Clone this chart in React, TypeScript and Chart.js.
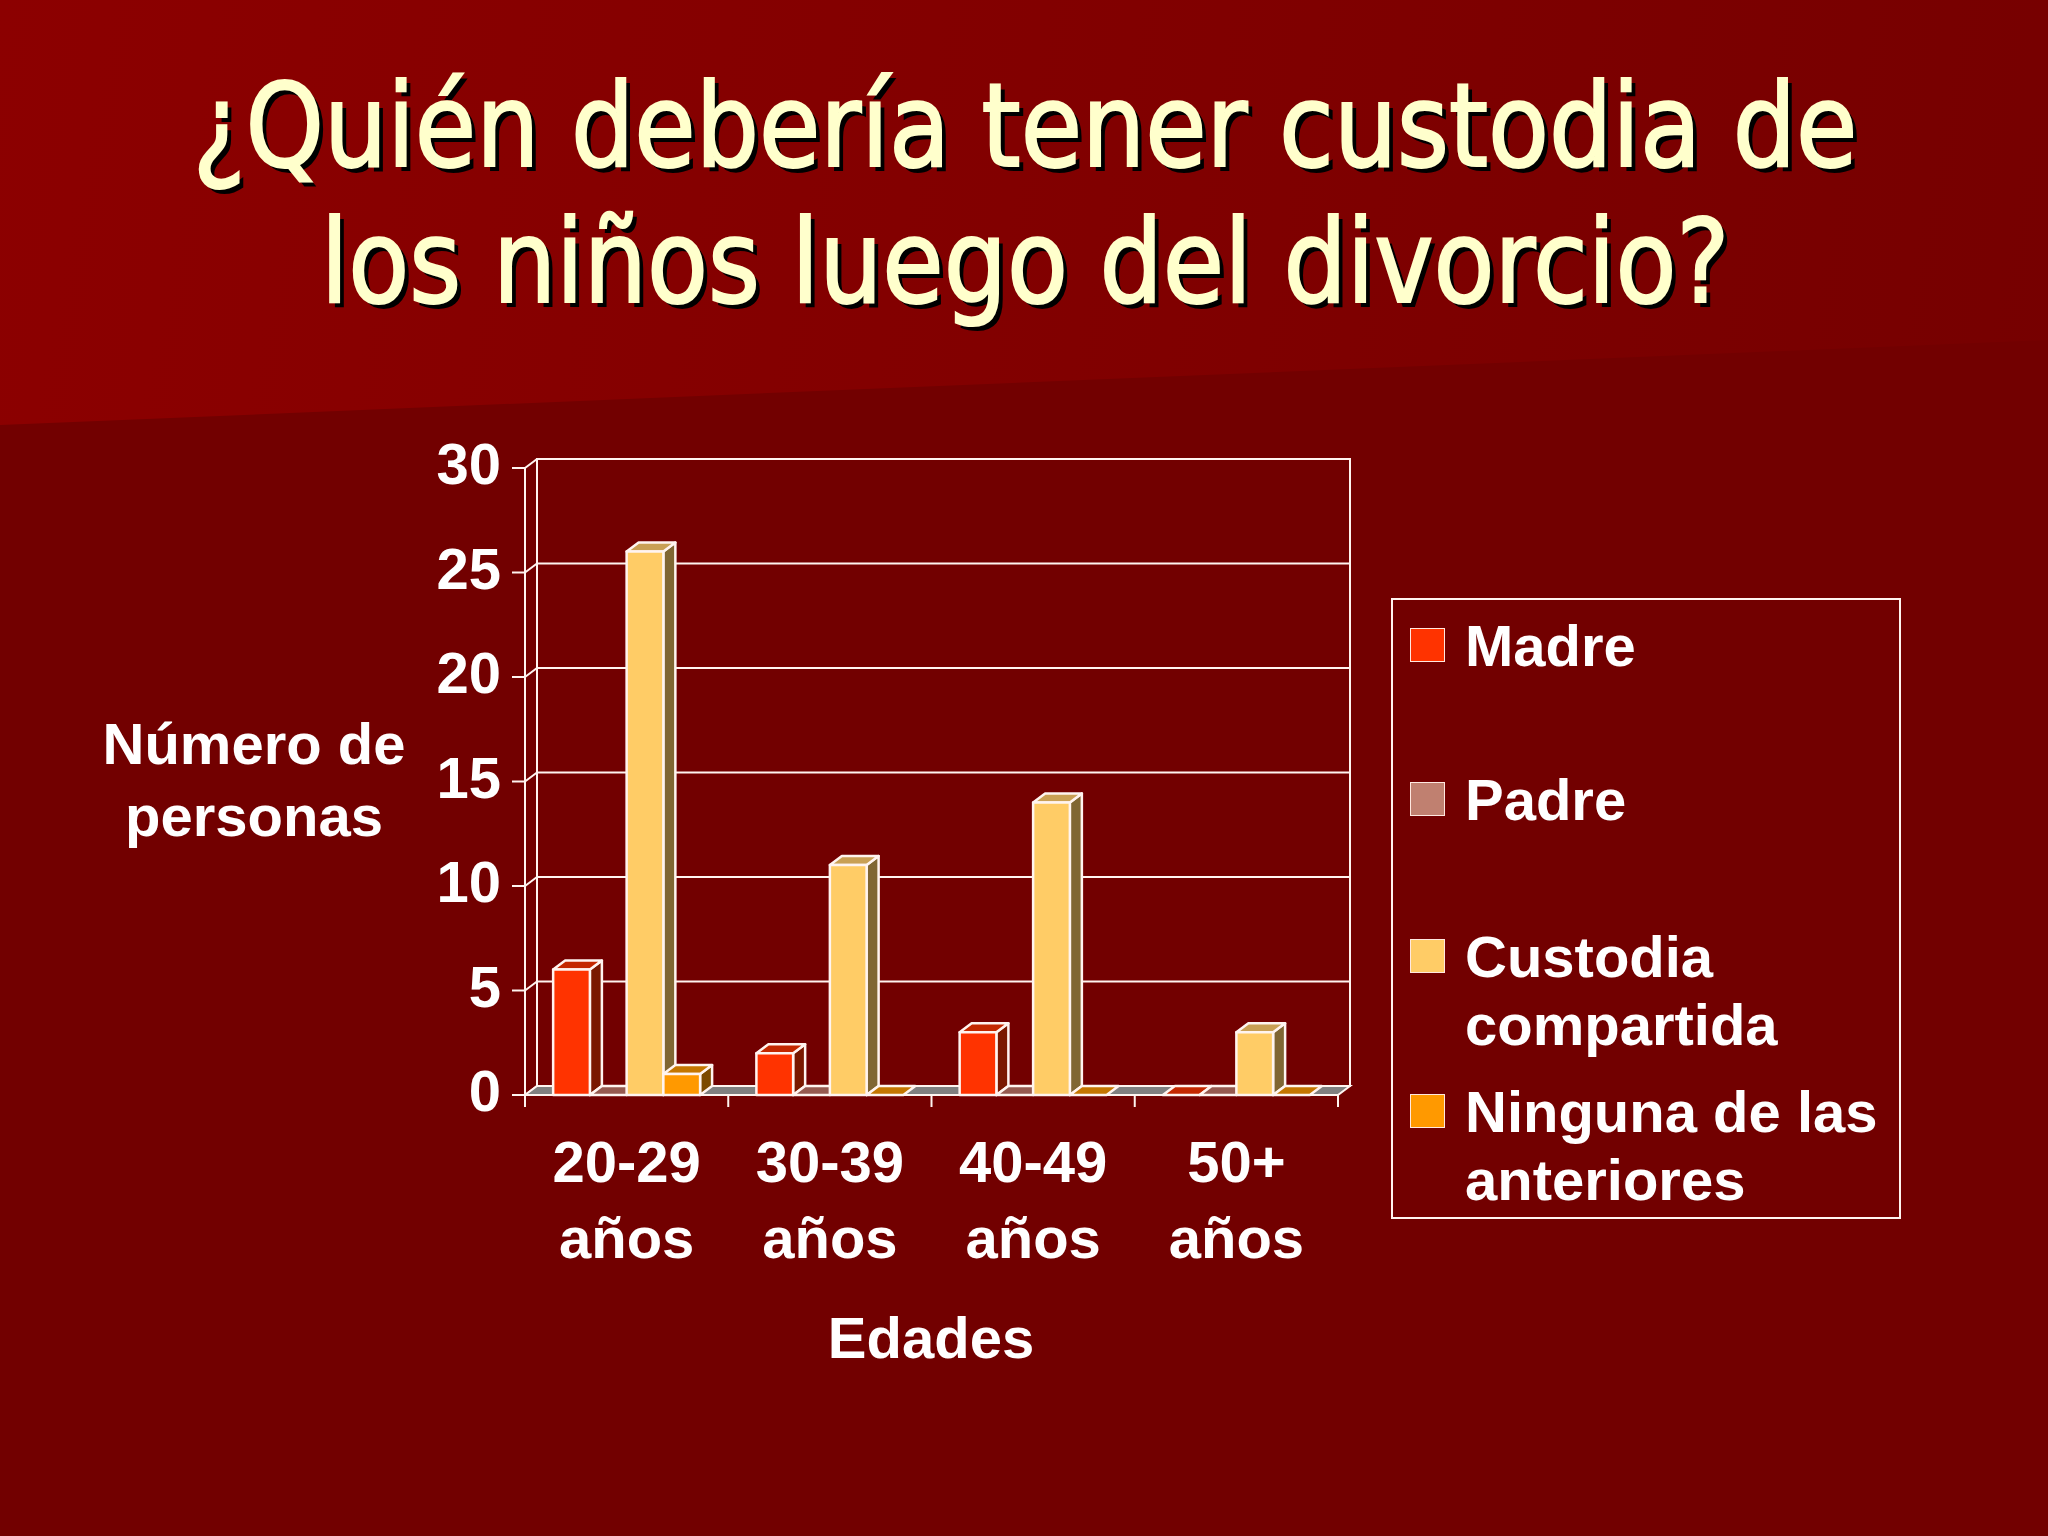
import React, { useEffect, useRef } from "react";
import Chart from "chart.js/auto";
import type { Plugin } from "chart.js";

// data
const CATEGORIES = [
    ["20-29", "años"],
    ["30-39", "años"],
    ["40-49", "años"],
    ["50+", "años"],
];
const SERIES = ["Madre", "Padre", "Custodia compartida", "Ninguna de las anteriores"];
const MADRE = [6, 2, 3, 0];
const PADRE = [0, 0, 0, 0];
const CUSTODIA = [26, 11, 14, 3];
const NINGUNA = [1, 0, 0, 0];
const Y_TICKS = [0, 5, 10, 15, 20, 25, 30];

const FRONT = ["#FF3300", "#C08070", "#FFCC66", "#FF9900"];
const TOP = ["#C42800", "#965A50", "#C9A055", "#C47600"];
const SIDE = ["#7A1800", "#5E3A30", "#806633", "#7C4A00"];

const LINE = "#FFF4F0";
const DX = 12;
const DY = -9;
const FONT = "'Liberation Sans', Arial, sans-serif";

type Pt = [number, number];

const fillPoly = (ctx: CanvasRenderingContext2D, pts: Pt[], fill: string) => {
    ctx.beginPath();
    pts.forEach(([x, y], i) => (i ? ctx.lineTo(x, y) : ctx.moveTo(x, y)));
    ctx.closePath();
    ctx.fillStyle = fill;
    ctx.fill();
    ctx.stroke();
};

const segment = (ctx: CanvasRenderingContext2D, x1: number, y1: number, x2: number, y2: number) => {
    ctx.beginPath();
    ctx.moveTo(x1, y1);
    ctx.lineTo(x2, y2);
    ctx.stroke();
};

const box3d: Plugin = {
    id: "box3d",
    beforeDatasetsDraw(chart) {
        const { ctx, chartArea: a } = chart;
        const yScale = chart.scales.y;
        ctx.save();
        ctx.lineWidth = 2;
        ctx.strokeStyle = LINE;

        // back wall, its grid and the left wall
        ctx.strokeRect(a.left + DX, a.top + DY, a.right - a.left, a.bottom - a.top);
        Y_TICKS.forEach((v) => {
            const py = yScale.getPixelForValue(v);
            segment(ctx, a.left + DX, py + DY, a.right + DX, py + DY);
            segment(ctx, a.left, py, a.left + DX, py + DY);
            segment(ctx, a.left - 13, py, a.left, py);
        });
        segment(ctx, a.left, a.top, a.left, a.bottom + 12);

        // floor
        fillPoly(ctx, [
            [a.left, a.bottom],
            [a.right, a.bottom],
            [a.right + DX, a.bottom + DY],
            [a.left + DX, a.bottom + DY],
        ], "#808080");

        const n = CATEGORIES.length;
        for (let i = 0; i <= n; i++) {
            const x = a.left + (i * (a.right - a.left)) / n;
            segment(ctx, x, a.bottom, x, a.bottom + 12);
        }
        ctx.restore();
    },
    afterDatasetsDraw(chart) {
        const { ctx } = chart;
        const items: { x: number; y: number; base: number; width: number; di: number }[] = [];
        chart.data.datasets.forEach((_, di) => {
            chart.getDatasetMeta(di).data.forEach((el: any) => {
                const p = el.getProps(["x", "y", "base", "width"], true);
                items.push({ ...p, di });
            });
        });
        items.sort((p, q) => p.x - q.x);

        ctx.save();
        ctx.lineWidth = 2.5;
        ctx.strokeStyle = LINE;
        ctx.lineJoin = "round";
        items.forEach(({ x, y, base, width, di }) => {
            const l = x - width / 2;
            const r = x + width / 2;
            if (base - y > 0.5) {
                fillPoly(ctx, [[r, y], [r + DX, y + DY], [r + DX, base + DY], [r, base]], SIDE[di]);
            }
            fillPoly(ctx, [[l, y], [r, y], [r + DX, y + DY], [l + DX, y + DY]], TOP[di]);
            if (base - y > 0.5) {
                fillPoly(ctx, [[l, y], [r, y], [r, base], [l, base]], FRONT[di]);
            }
        });
        ctx.restore();
    },
};

const tickFont = { family: FONT, size: 58, weight: "bold" as const, lineHeight: 76 / 58 };

const text: React.CSSProperties = {
    position: "absolute",
    fontFamily: FONT,
    fontWeight: "bold",
    fontSize: 58,
    lineHeight: "58px",
    color: "#FFFFFF",
    whiteSpace: "nowrap",
};

const BarChart3D = () => {
    const canvasRef = useRef<HTMLCanvasElement | null>(null);

    useEffect(() => {
        const canvas = canvasRef.current;
        if (!canvas) return;

        const chart = new Chart(canvas, {
            type: "bar",
            data: {
                labels: CATEGORIES,
                datasets: [MADRE, PADRE, CUSTODIA, NINGUNA].map((values, i) => ({
                    label: SERIES[i],
                    data: values,
                    backgroundColor: FRONT[i],
                    borderWidth: 0,
                })),
            },
            options: {
                responsive: false,
                maintainAspectRatio: false,
                animation: false,
                layout: { padding: { left: 325, top: 468, right: 710, bottom: 191 } },
                datasets: { bar: { categoryPercentage: 0.723, barPercentage: 1 } },
                plugins: {
                    legend: { display: false },
                    tooltip: { enabled: false },
                },
                scales: {
                    x: {
                        grid: { display: false },
                        border: { display: false },
                        ticks: { color: "#FFFFFF", font: tickFont, padding: 25, maxRotation: 0, autoSkip: false },
                        afterFit: (scale: any) => {
                            scale.height = 250;
                        },
                    },
                    y: {
                        min: 0,
                        max: 30,
                        grid: { display: false },
                        border: { display: false },
                        ticks: { stepSize: 5, color: "#FFFFFF", font: tickFont, padding: 16 },
                        afterFit: (scale: any) => {
                            scale.width = 200;
                        },
                    },
                },
            },
            plugins: [box3d],
        });

        return () => {
            chart.destroy();
        };
    }, []);

    return (
        <canvas
            ref={canvasRef}
            width={2048}
            height={1536}
            style={{ position: "absolute", left: 0, top: 0, width: 2048, height: 1536 }}
        />
    );
};

// baselines of the legend lines
const LEGEND_ROWS = [
    { lines: ["Madre"], baseline: 666 },
    { lines: ["Padre"], baseline: 820 },
    { lines: ["Custodia", "compartida"], baseline: 977 },
    { lines: ["Ninguna de las", "anteriores"], baseline: 1132 },
];

export default function App() {
    return (
        <div
            style={{
                position: "absolute",
                left: 0,
                top: 0,
                width: 2048,
                height: 1536,
                overflow: "hidden",
                background: "#720000",
            }}
        >
            <div
                style={{
                    position: "absolute",
                    inset: 0,
                    background: "linear-gradient(100deg, #8C0000 0%, #820000 45%, #740000 100%)",
                    clipPath: "polygon(0 0, 100% 0, 100% 340px, 0 425px)",
                }}
            />
            <div
                style={{
                    position: "absolute",
                    left: 0,
                    top: 58,
                    width: 2050,
                    textAlign: "center",
                    fontFamily: "'DejaVu Sans Condensed', 'DejaVu Sans', sans-serif",
                    fontSize: 116,
                    lineHeight: "136px",
                    color: "#FFFFCC",
                    WebkitTextStroke: "2px #FFFFCC",
                    textShadow: "5px 5px 0 #000000",
                    whiteSpace: "nowrap",
                    transform: "scaleX(0.955)",
                    transformOrigin: "1025px 0",
                }}
            >
                <div>¿Quién debería tener custodia de</div>
                <div>los niños luego del divorcio?</div>
            </div>

            <BarChart3D />

            <div style={{ ...text, left: 54, width: 400, textAlign: "center", top: 764 - 49 }}>Número de</div>
            <div style={{ ...text, left: 54, width: 400, textAlign: "center", top: 836 - 49 }}>personas</div>
            <div style={{ ...text, left: 731, width: 400, textAlign: "center", top: 1358 - 49 }}>Edades</div>

            <div
                style={{
                    position: "absolute",
                    left: 1391,
                    top: 598,
                    width: 506,
                    height: 617,
                    border: "2px solid #FFF4F0",
                }}
            />
            {LEGEND_ROWS.map((row, i) => (
                <React.Fragment key={SERIES[i]}>
                    <div
                        style={{
                            position: "absolute",
                            left: 1410,
                            top: row.baseline - 38,
                            width: 33,
                            height: 32,
                            background: FRONT[i],
                            border: "1.5px solid #FFE8E0",
                        }}
                    />
                    {row.lines.map((line, j) => (
                        <div key={line} style={{ ...text, left: 1465, top: row.baseline + j * 68 - 49 }}>
                            {line}
                        </div>
                    ))}
                </React.Fragment>
            ))}
        </div>
    );
}
